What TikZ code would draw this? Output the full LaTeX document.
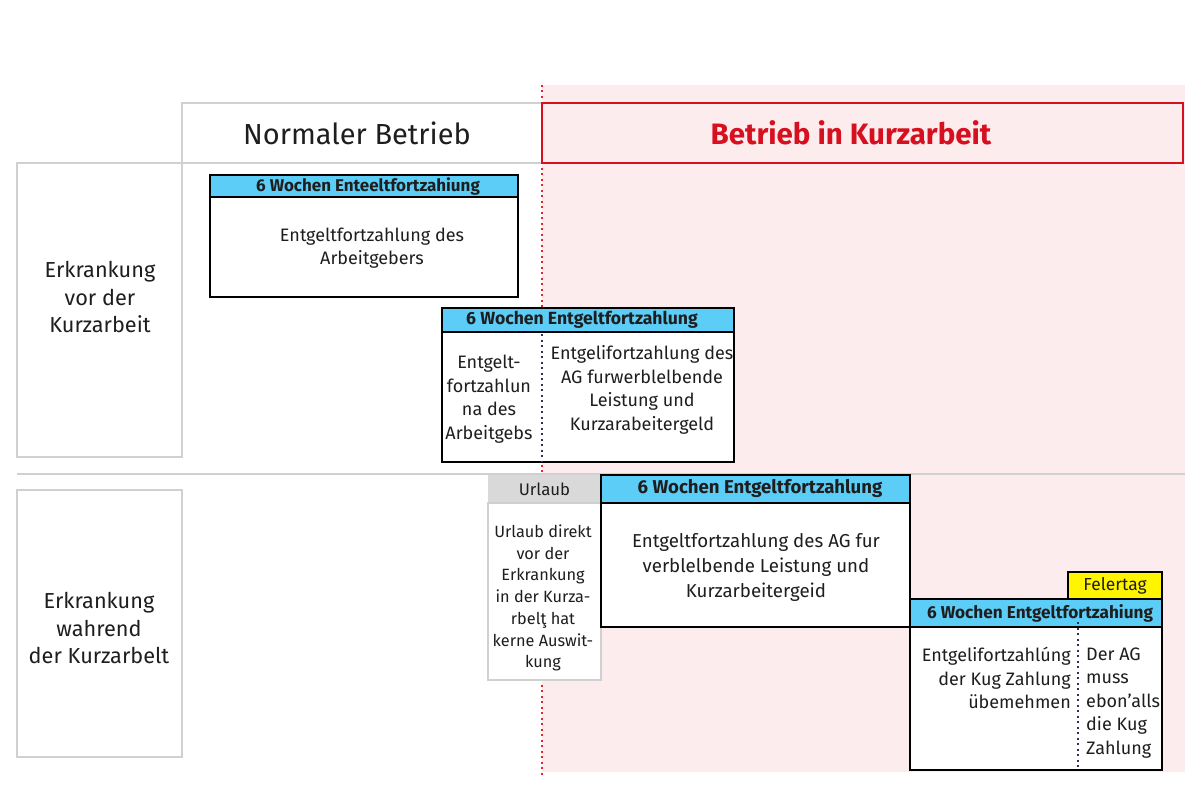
\documentclass[tikz,border=0pt]{standalone}
\usepackage{fontspec}
\setmainfont{Fira Sans}
\definecolor{kblue}{HTML}{5CCDF7}
\definecolor{kpink}{HTML}{FDECEE}
\definecolor{kred}{HTML}{D7101F}
\definecolor{kdot}{HTML}{E2262F}
\definecolor{kgray}{HTML}{D0D0D0}
\definecolor{kgrayfill}{HTML}{D9D9D9}
\definecolor{kyellow}{HTML}{FFF500}
\definecolor{knavy}{HTML}{2B3550}
\definecolor{ktext}{HTML}{1E1E1E}
\tikzset{
  base/.style={inner sep=0pt, outer sep=0pt, anchor=north west, text=ktext},
  grayframe/.style={base, draw=kgray, line width=2.4pt},
  redframe/.style={base, draw=kred, line width=2.2pt, fill=kpink},
  bluehead/.style={base, draw=black, line width=1.2pt, fill=kblue, font=\fontsize{17}{20}\selectfont\bfseries},
  whitebody/.style={base, draw=black, line width=1.2pt, fill=white},
  graylbl/.style={inner sep=0pt, align=center, text=ktext, font=\fontsize{21.7}{27.5}\selectfont},
  bodytxt/.style={inner sep=0pt, align=center, text=ktext, font=\fontsize{18}{23.5}\selectfont},
  smalltxt/.style={inner sep=0pt, align=center, text=ktext, font=\fontsize{16.3}{21.7}\selectfont},
  reddots/.style={draw=kdot, line width=2pt, dash pattern=on 2pt off 3.5pt},
  navydots/.style={draw=knavy, line width=2pt, dash pattern=on 2pt off 3.5pt},
  grayline/.style={draw=kgray, line width=2.4pt}
}
\begin{document}
\begin{tikzpicture}[x=1pt,y=-1pt]
\useasboundingbox (0,0) rectangle (1200,800);
\fill[white] (0,0) rectangle (1200,800);
\fill[kpink] (542,85) rectangle (1185,772);
% divider between rows
\coordinate (divL) at (17,474);
\coordinate (divR) at (1185,474);
\draw[grayline] (divL) -- (divR);
% red dotted border line
\coordinate (rt) at (542,85);
\coordinate (rb) at (542,775);
\draw[reddots] (rt) -- (rb);
% column headers
\node[grayframe, minimum width=360pt, minimum height=60pt] (nb) at (182,103) {};
\node[inner sep=0pt, text=ktext, font=\fontsize{29}{36}\selectfont] (nbt) at (357,133) {Normaler Betrieb};
\node[redframe, minimum width=641pt, minimum height=60pt] (kb) at (542,103) {};
\node[inner sep=0pt, text=kred, font=\fontsize{29.5}{36}\selectfont\bfseries] (kbt) at (851,133) {Betrieb in Kurzarbeit};
% row headers
\node[grayframe, minimum width=165pt, minimum height=294pt] (r1) at (17,163) {};
\node[graylbl] (r1t) at (100,297) {Erkrankung\\vor der\\Kurzarbeit};
\node[grayframe, minimum width=165pt, minimum height=267pt] (r2) at (17,490) {};
\node[graylbl] (r2t) at (99,628) {Erkrankung\\wahrend\\der Kurzarbelt};
% box 1
\node[bluehead, minimum width=308pt, minimum height=22pt] (b1h) at (210,175) {\hspace*{8pt}6 Wochen Enteeltfortzahiung};
\node[whitebody, minimum width=308pt, minimum height=100pt] (b1) at (210,197) {};
\node[bodytxt] (b1t) at (372,248) {Entgeltfortzahlung des\\Arbeitgebers};
% box 2
\node[bluehead, minimum width=292pt, minimum height=24pt, font=\fontsize{17.6}{20}\selectfont\bfseries] (b2h) at (442,308) {6 Wochen Entgeltfortzahlung\hspace*{12pt}};
\node[whitebody, minimum width=292pt, minimum height=130pt] (b2) at (442,332) {};
\coordinate (b2dt) at (542,334);
\coordinate (b2db) at (542,461);
\draw[navydots] (b2dt) -- (b2db);
\node[bodytxt] (b2l) at (489,399) {Entgelt-\\fortzahlun\\na des\\Arbeitgebs};
\node[bodytxt] (b2r) at (642,390) {Entgelifortzahlung des\\AG furwerblelbende\\Leistung und\\Kurzarabeitergeld};
% Urlaub box
\node[base, fill=kgrayfill, minimum width=113pt, minimum height=28pt,
      font=\fontsize{16.8}{20}\selectfont] (uh) at (488,475) {Urlaub};
\node[base, draw=kgray, line width=2pt, fill=white, minimum width=113pt, minimum height=177pt] (ub) at (488,503) {};
\node[smalltxt] (ut) at (543,598) {Urlaub direkt\\vor der\\Erkrankung\\in der Kurza-\\rbelţ hat\\kerne Auswit-\\kung};
% box 3
\node[bluehead, minimum width=309pt, minimum height=28pt,
      font=\fontsize{18.6}{22}\selectfont\bfseries] (b3h) at (601,475) {\hspace*{9pt}6 Wochen Entgeltfortzahlung};
\node[whitebody, minimum width=309pt, minimum height=124pt] (b3) at (601,503) {};
\node[bodytxt, font=\fontsize{18.7}{25}\selectfont] (b3t) at (756,567) {Entgeltfortzahlung des AG fur\\verblelbende Leistung und\\Kurzarbeitergeid};
% box 4
\node[base, draw=black, line width=1.2pt, fill=kyellow, minimum width=94pt, minimum height=27pt,
      font=\fontsize{17.4}{20}\selectfont] (fel) at (1068,572) {Felertag};
\node[bluehead, minimum width=252pt, minimum height=28pt, font=\fontsize{17.2}{20}\selectfont\bfseries] (b4h) at (910,599) {\hspace*{8pt}6 Wochen Entgeltfortzahiung};
\node[whitebody, minimum width=252pt, minimum height=143pt] (b4) at (910,627) {};
\coordinate (b4dt) at (1078,622);
\coordinate (b4db) at (1078,769);
\draw[navydots] (b4dt) -- (b4db);
\node[bodytxt, align=right, anchor=east] (b4l) at (1071,678) {Entgelifortzahlúng\\der Kug Zahlung\\übemehmen};
\node[bodytxt, align=left, anchor=west] (b4r) at (1086,703) {Der AG\\muss\\ebon'alls\\die Kug\\Zahlung};
\end{tikzpicture}
\end{document}
